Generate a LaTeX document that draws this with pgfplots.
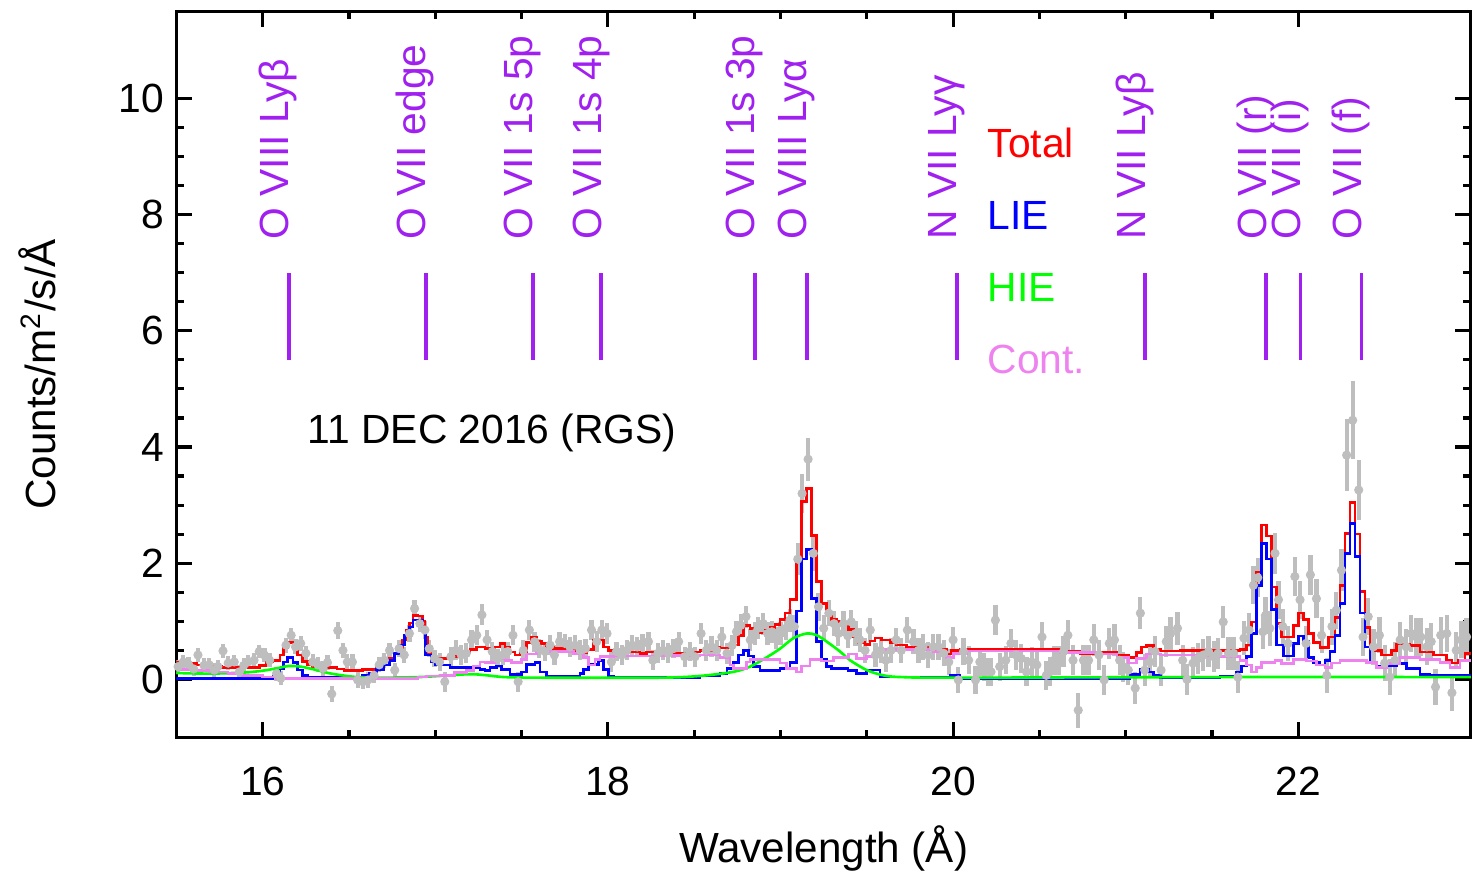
\documentclass[border=0pt]{standalone}
\usepackage{fontspec}
\setmainfont{Liberation Sans}
\usepackage{pgfplots}
\usepackage{pgfplotstable}
\pgfplotsset{compat=1.18}

\definecolor{idlpurple}{RGB}{160,32,240}
\definecolor{idlviolet}{RGB}{238,130,238}
\definecolor{idlgray}{RGB}{190,190,190}
\definecolor{idlgreen}{RGB}{0,255,0}
\definecolor{idlred}{RGB}{255,0,0}
\definecolor{idlblue}{RGB}{0,0,255}

\newcommand{\lab}{\fontsize{11.6}{13}\selectfont}

% RGS data points: wavelength, flux, 1-sigma error
\pgfplotstableread{
x y e
15.51 0.22 0.12
15.54 0.30 0.12
15.57 0.26 0.12
15.60 0.18 0.12
15.625 0.42 0.12
15.66 0.24 0.12
15.69 0.25 0.12
15.72 0.16 0.12
15.74 0.22 0.12
15.77 0.49 0.12
15.80 0.28 0.12
15.835 0.30 0.12
15.865 0.13 0.12
15.89 0.24 0.12
15.915 0.30 0.12
15.95 0.33 0.12
15.98 0.48 0.12
16.01 0.42 0.12
16.04 0.33 0.12
16.08 0.10 0.12
16.105 0.02 0.12
16.135 0.59 0.13
16.165 0.76 0.13
16.19 0.56 0.13
16.22 0.62 0.13
16.25 0.45 0.13
16.29 0.30 0.13
16.32 0.25 0.13
16.35 0.19 0.13
16.375 0.29 0.13
16.40 -0.25 0.14
16.435 0.84 0.14
16.465 0.50 0.13
16.49 0.30 0.13
16.52 0.30 0.13
16.55 -0.01 0.13
16.58 -0.04 0.13
16.61 -0.01 0.13
16.645 0.07 0.13
16.675 0.25 0.13
16.705 0.33 0.13
16.735 0.50 0.13
16.765 0.16 0.13
16.79 0.53 0.14
16.82 0.42 0.14
16.85 0.79 0.15
16.88 1.22 0.15
16.91 0.96 0.15
16.94 0.85 0.15
16.965 0.53 0.15
16.995 0.36 0.15
17.025 0.30 0.15
17.055 -0.04 0.17
17.09 0.39 0.17
17.12 0.50 0.17
17.15 0.42 0.17
17.18 0.45 0.17
17.21 0.68 0.17
17.24 0.76 0.17
17.27 1.11 0.18
17.30 0.68 0.17
17.33 0.48 0.17
17.36 0.36 0.17
17.39 0.42 0.17
17.42 0.48 0.17
17.45 0.76 0.17
17.48 -0.04 0.17
17.51 0.50 0.17
17.545 0.85 0.18
17.575 0.65 0.17
17.60 0.53 0.17
17.635 0.48 0.17
17.665 0.59 0.17
17.69 0.42 0.17
17.72 0.65 0.17
17.75 0.62 0.17
17.78 0.56 0.17
17.81 0.59 0.17
17.84 0.50 0.17
17.87 0.53 0.17
17.905 0.85 0.18
17.935 0.65 0.18
17.965 0.85 0.18
17.995 0.79 0.18
18.02 0.30 0.17
18.05 0.48 0.17
18.08 0.42 0.17
18.11 0.50 0.17
18.14 0.59 0.17
18.17 0.56 0.17
18.20 0.62 0.17
18.235 0.65 0.17
18.26 0.33 0.17
18.29 0.45 0.17
18.32 0.50 0.17
18.35 0.45 0.17
18.38 0.53 0.17
18.41 0.65 0.17
18.445 0.39 0.17
18.475 0.48 0.17
18.505 0.39 0.17
18.54 0.79 0.18
18.57 0.50 0.18
18.60 0.56 0.18
18.63 0.50 0.18
18.66 0.73 0.18
18.69 0.45 0.18
18.72 0.59 0.18
18.745 0.82 0.19
18.77 0.93 0.19
18.80 1.08 0.19
18.825 0.68 0.19
18.85 0.79 0.19
18.87 0.88 0.19
18.90 0.96 0.19
18.925 0.79 0.19
18.95 0.82 0.19
18.975 0.71 0.19
19.00 0.79 0.20
19.03 0.88 0.20
19.055 1.02 0.20
19.08 0.91 0.20
19.10 2.07 0.28
19.125 3.20 0.33
19.16 3.79 0.37
19.19 2.17 0.30
19.22 1.25 0.24
19.25 0.88 0.22
19.28 1.14 0.22
19.31 0.96 0.21
19.335 0.79 0.21
19.365 0.96 0.21
19.39 0.75 0.21
19.41 0.99 0.21
19.435 0.79 0.21
19.46 0.68 0.21
19.49 0.50 0.21
19.52 0.85 0.21
19.55 0.42 0.21
19.58 0.50 0.21
19.61 0.33 0.21
19.64 0.50 0.21
19.67 0.68 0.21
19.70 0.50 0.21
19.735 0.85 0.22
19.77 0.65 0.22
19.80 0.50 0.22
19.825 0.56 0.22
19.855 0.42 0.22
19.885 0.56 0.22
19.915 0.56 0.22
19.945 0.45 0.22
19.975 0.30 0.22
20.00 0.68 0.22
20.03 -0.01 0.23
20.06 0.48 0.24
20.09 0.33 0.24
20.13 -0.01 0.24
20.155 0.30 0.24
20.18 0.22 0.24
20.20 0.13 0.24
20.22 0.13 0.24
20.245 1.02 0.26
20.27 0.22 0.24
20.305 0.33 0.24
20.335 0.62 0.25
20.365 0.42 0.25
20.395 0.36 0.25
20.425 0.13 0.25
20.455 0.30 0.25
20.485 0.25 0.25
20.515 0.73 0.26
20.54 0.07 0.25
20.56 0.13 0.25
20.585 0.33 0.25
20.61 0.33 0.25
20.64 0.48 0.26
20.665 0.76 0.27
20.695 0.33 0.26
20.725 -0.53 0.30
20.755 0.33 0.26
20.785 0.33 0.26
20.815 0.68 0.27
20.845 0.42 0.26
20.875 -0.01 0.26
20.905 0.62 0.27
20.935 0.68 0.27
20.965 0.33 0.26
20.985 0.22 0.26
21.015 0.16 0.26
21.055 -0.15 0.27
21.085 1.14 0.28
21.11 0.16 0.27
21.14 0.30 0.27
21.17 0.48 0.27
21.205 0.16 0.27
21.235 0.65 0.27
21.26 0.79 0.28
21.30 0.88 0.28
21.33 0.33 0.27
21.355 0.00 0.27
21.39 0.28 0.27
21.42 0.36 0.27
21.45 0.42 0.27
21.48 0.48 0.27
21.51 0.39 0.27
21.535 0.45 0.27
21.565 0.99 0.28
21.595 0.45 0.28
21.625 0.45 0.28
21.65 0.04 0.28
21.685 0.71 0.29
21.715 0.85 0.29
21.74 1.62 0.33
21.765 1.75 0.34
21.795 0.82 0.30
21.81 1.10 0.31
21.835 0.88 0.30
21.865 2.17 0.35
21.885 1.37 0.33
21.91 0.91 0.31
21.94 0.62 0.30
21.98 1.77 0.34
22.01 1.37 0.33
22.045 0.62 0.30
22.07 1.80 0.34
22.105 1.39 0.33
22.135 0.76 0.31
22.165 0.07 0.30
22.195 0.91 0.31
22.22 1.19 0.32
22.25 1.88 0.36
22.28 3.86 0.62
22.315 4.46 0.67
22.35 3.26 0.52
22.375 0.73 0.32
22.405 1.08 0.32
22.435 0.56 0.31
22.47 0.76 0.31
22.50 0.28 0.31
22.53 0.04 0.31
22.56 0.33 0.31
22.59 0.68 0.31
22.625 0.56 0.31
22.655 0.79 0.32
22.685 0.73 0.32
22.71 0.73 0.32
22.745 0.56 0.32
22.77 0.65 0.32
22.795 -0.13 0.31
22.825 0.76 0.32
22.86 0.79 0.32
22.89 -0.23 0.31
22.915 0.50 0.32
22.945 0.68 0.32
22.975 0.73 0.33
}\datatab

\begin{document}
\begin{tikzpicture}
\begin{axis}[
    name=ax,
    scale only axis,
    width=12.945cm, height=7.263cm,
    xmin=15.5, xmax=23, ymin=-1, ymax=11.5,
    xtick={16,18,20,22}, ytick={0,2,4,6,8,10},
    minor x tick num=3, minor y tick num=3,
    tick align=inside, xtick pos=both, ytick pos=both,
    major tick length=0.16cm, minor tick length=0.08cm,
    every tick/.style={black, line width=0.9pt},
    axis line style={line width=0.9pt},
    tick label style={font=\lab},
    /pgf/number format/assume math mode=true,
    xticklabel style={yshift=-0.17cm},
    xlabel={Wavelength (Å)},
    ylabel={Counts/m\textsuperscript{2}/s/Å},
    every axis x label/.style={at={(axis description cs:0.5,0)}, yshift=-1.11cm, anchor=center, font=\fontsize{12}{14}\selectfont},
    every axis y label/.style={at={(axis description cs:0,0.5)}, xshift=-1.39cm, rotate=90, anchor=center, font=\fontsize{12}{14}\selectfont},
]

% data
\addplot[only marks, mark=*, mark size=1.1pt, idlgray,
    error bars/.cd, y dir=both, y explicit,
    error bar style={line width=1.2pt, idlgray}, error mark=none]
    table[x=x, y=y, y error=e] {\datatab};

% Total model
\addplot[idlred, line width=0.75pt, const plot] coordinates {
(15.50,0.29) (15.56,0.27) (15.62,0.25) (15.69,0.22) (15.76,0.21) (15.84,0.20)
(15.92,0.21) (15.98,0.24) (16.02,0.30) (16.06,0.33) (16.10,0.42) (16.12,0.55)
(16.145,0.63) (16.175,0.54) (16.20,0.42) (16.23,0.31) (16.26,0.26) (16.29,0.22)
(16.36,0.20) (16.43,0.18) (16.47,0.15) (16.58,0.17) (16.66,0.21) (16.70,0.30)
(16.735,0.37) (16.765,0.44) (16.79,0.54) (16.81,0.68) (16.83,0.85) (16.85,0.97)
(16.87,1.10) (16.90,1.09) (16.925,1.00) (16.94,0.73) (16.955,0.45) (16.975,0.40)
(17.00,0.37) (17.027,0.36) (17.085,0.39) (17.143,0.46) (17.20,0.52) (17.24,0.56)
(17.288,0.53) (17.317,0.50) (17.346,0.56) (17.375,0.62) (17.404,0.56) (17.433,0.47)
(17.462,0.42) (17.491,0.47) (17.529,0.63) (17.558,0.72) (17.587,0.66) (17.616,0.62)
(17.645,0.56) (17.684,0.53) (17.761,0.50) (17.838,0.46) (17.877,0.52) (17.915,0.68)
(17.973,0.56) (18.002,0.50) (18.031,0.47) (18.186,0.45) (18.224,0.47) (18.30,0.44)
(18.38,0.45) (18.495,0.47) (18.534,0.50) (18.611,0.56) (18.65,0.54) (18.727,0.59)
(18.756,0.76) (18.785,0.93) (18.824,0.88) (18.853,0.82) (18.882,0.80) (18.911,0.84)
(18.94,0.89) (18.969,0.95) (18.998,1.03) (19.027,1.14) (19.056,1.38) (19.094,2.07)
(19.123,3.06) (19.152,3.29) (19.181,2.48) (19.21,1.68) (19.239,1.31) (19.268,1.14)
(19.297,1.03) (19.326,1.00) (19.364,0.92) (19.393,0.86) (19.422,0.73) (19.451,0.63)
(19.49,0.60) (19.519,0.66) (19.548,0.71) (19.586,0.68) (19.635,0.64) (19.673,0.59)
(19.731,0.55) (19.886,0.52) (19.963,0.44) (19.992,0.50) (20.04,0.52) (20.62,0.49)
(20.735,0.44) (20.85,0.46) (20.95,0.42) (21.02,0.38) (21.063,0.46) (21.09,0.56)
(21.12,0.58) (21.16,0.52) (21.20,0.49) (21.314,0.50) (21.546,0.50) (21.662,0.52)
(21.701,0.59) (21.730,0.99) (21.759,1.85) (21.788,2.66) (21.817,2.47) (21.846,1.59)
(21.875,0.96) (21.904,0.73) (21.971,0.93) (22.0,1.14) (22.029,1.03) (22.058,0.79)
(22.087,0.63) (22.126,0.55) (22.174,0.73) (22.213,1.07) (22.241,1.62) (22.27,2.51)
(22.299,3.04) (22.328,2.50) (22.357,1.51) (22.386,0.89) (22.415,0.59) (22.444,0.50)
(22.483,0.42) (22.541,0.50) (22.57,0.61) (22.647,0.58) (22.705,0.47) (22.782,0.42)
(22.859,0.33) (22.888,0.28) (22.927,0.33) (22.966,0.45) (23.0,0.45)};

% LIE
\addplot[idlblue, line width=0.75pt, const plot] coordinates {
(15.50,0.02) (16.06,0.06) (16.10,0.19) (16.12,0.30) (16.145,0.38) (16.175,0.29)
(16.20,0.16) (16.23,0.07) (16.26,0.03) (16.58,0.07) (16.62,0.11) (16.66,0.17)
(16.70,0.25) (16.735,0.33) (16.765,0.45) (16.79,0.59) (16.82,0.76) (16.85,0.90)
(16.87,1.02) (16.90,1.01) (16.925,0.85) (16.945,0.42) (16.975,0.30) (17.00,0.25)
(17.027,0.25) (17.085,0.21) (17.26,0.17) (17.288,0.15) (17.317,0.21) (17.355,0.23)
(17.384,0.17) (17.433,0.09) (17.50,0.13) (17.529,0.26) (17.577,0.29) (17.606,0.13)
(17.645,0.06) (17.838,0.10) (17.857,0.17) (17.886,0.26) (17.944,0.33) (17.973,0.17)
(18.002,0.06) (18.031,0.03) (18.534,0.06) (18.65,0.10) (18.69,0.19) (18.727,0.29)
(18.756,0.42) (18.785,0.50) (18.814,0.40) (18.843,0.22) (18.882,0.15) (18.998,0.19)
(19.056,0.29) (19.094,1.18) (19.123,2.07) (19.152,2.24) (19.181,1.39) (19.21,0.65)
(19.239,0.34) (19.268,0.22) (19.297,0.19) (19.39,0.15) (19.44,0.10) (19.50,0.16)
(19.577,0.04) (19.982,0.07) (20.04,0.02) (21.025,0.09) (21.083,0.17) (21.131,0.13)
(21.16,0.07) (21.20,0.03) (21.546,0.05) (21.643,0.13) (21.672,0.23) (21.70,0.39)
(21.73,0.79) (21.759,1.62) (21.788,2.34) (21.817,2.07) (21.846,1.20) (21.875,0.59)
(21.913,0.40) (21.971,0.62) (22.0,0.75) (22.029,0.65) (22.058,0.38) (22.087,0.29)
(22.126,0.25) (22.155,0.33) (22.184,0.48) (22.213,0.76) (22.241,1.31) (22.27,2.17)
(22.299,2.68) (22.328,2.12) (22.357,1.14) (22.386,0.56) (22.415,0.30) (22.454,0.23)
(22.512,0.23) (22.57,0.27) (22.628,0.19) (22.705,0.09) (22.763,0.07) (23.0,0.07)};

% HIE
\addplot[idlgreen, line width=0.75pt, smooth] coordinates {
(15.50,0.11) (15.70,0.10) (15.90,0.12) (16.00,0.15) (16.08,0.19) (16.15,0.23)
(16.22,0.22) (16.30,0.17) (16.38,0.11) (16.46,0.07) (16.55,0.04) (16.70,0.03)
(16.90,0.04) (17.03,0.06) (17.20,0.09) (17.30,0.07) (17.40,0.04) (17.60,0.03)
(18.30,0.03) (18.534,0.06) (18.727,0.13) (18.824,0.22) (18.92,0.38) (18.998,0.53)
(19.075,0.71) (19.152,0.79) (19.21,0.76) (19.268,0.65) (19.345,0.48) (19.403,0.33)
(19.50,0.16) (19.596,0.07) (19.70,0.04) (20.00,0.03) (21.50,0.04) (23.00,0.04)};

% Continuum
\addplot[idlviolet, line width=0.75pt, const plot] coordinates {
(15.50,0.17) (15.60,0.15) (15.69,0.13) (15.80,0.10) (15.88,0.07) (16.00,0.04)
(16.08,0.02) (16.90,0.04) (16.95,0.06) (17.027,0.07) (17.11,0.12) (17.18,0.15)
(17.22,0.23) (17.26,0.30) (17.288,0.29) (17.346,0.36) (17.404,0.33) (17.442,0.29)
(17.50,0.34) (17.529,0.44) (17.587,0.48) (17.80,0.45) (17.857,0.38) (17.886,0.25)
(17.925,0.34) (17.954,0.39) (18.031,0.40) (18.30,0.41) (18.534,0.42) (18.65,0.38)
(18.708,0.25) (18.727,0.19) (18.804,0.30) (18.824,0.34) (18.998,0.28) (19.036,0.19)
(19.094,0.13) (19.123,0.23) (19.171,0.34) (19.239,0.32) (19.306,0.38) (19.393,0.44)
(19.442,0.36) (19.50,0.39) (19.557,0.47) (19.577,0.52) (19.886,0.47) (19.963,0.38)
(20.002,0.45) (20.04,0.44) (20.079,0.49) (20.62,0.46) (20.85,0.44) (20.95,0.38)
(21.015,0.28) (21.063,0.36) (21.121,0.44) (21.20,0.42) (21.45,0.40) (21.546,0.39)
(21.662,0.33) (21.70,0.25) (21.73,0.13) (21.759,0.21) (21.788,0.29) (21.865,0.33)
(21.904,0.27) (21.971,0.34) (22.048,0.32) (22.106,0.25) (22.155,0.20) (22.193,0.28)
(22.241,0.33) (22.396,0.29) (22.454,0.21) (22.512,0.27) (22.589,0.38) (22.705,0.34)
(22.82,0.29) (22.879,0.20) (22.937,0.33) (23.0,0.33)};

% line markers
\addplot[idlpurple, line width=1pt] coordinates {(16.152,5.5) (16.152,7.0)};
\addplot[idlpurple, line width=1pt] coordinates {(16.946,5.5) (16.946,7.0)};
\addplot[idlpurple, line width=1pt] coordinates {(17.566,5.5) (17.566,7.0)};
\addplot[idlpurple, line width=1pt] coordinates {(17.960,5.5) (17.960,7.0)};
\addplot[idlpurple, line width=1pt] coordinates {(18.852,5.5) (18.852,7.0)};
\addplot[idlpurple, line width=1pt] coordinates {(19.153,5.5) (19.153,7.0)};
\addplot[idlpurple, line width=1pt] coordinates {(20.022,5.5) (20.022,7.0)};
\addplot[idlpurple, line width=1pt] coordinates {(21.112,5.5) (21.112,7.0)};
\addplot[idlpurple, line width=1pt] coordinates {(21.813,5.5) (21.813,7.0)};
\addplot[idlpurple, line width=1pt] coordinates {(22.012,5.5) (22.012,7.0)};
\addplot[idlpurple, line width=1pt] coordinates {(22.367,5.5) (22.367,7.0)};

\begin{scope}[every node/.style={rotate=90, anchor=base west, inner sep=0pt, text=idlpurple, font=\lab}]
\node at (axis cs:16.152,7.56) {O VIII Lyβ};
\node at (axis cs:16.946,7.56) {O VII edge};
\node at (axis cs:17.566,7.56) {O VII 1s 5p};
\node at (axis cs:17.960,7.56) {O VII 1s 4p};
\node at (axis cs:18.852,7.56) {O VII 1s 3p};
\node at (axis cs:19.153,7.56) {O VIII Lyα};
\node at (axis cs:20.022,7.56) {N VII Lyγ};
\node at (axis cs:21.112,7.56) {N VII Lyβ};
\node at (axis cs:21.813,7.56) {O VII (r)};
\node at (axis cs:22.012,7.56) {O VII (i)};
\node at (axis cs:22.367,7.56) {O VII (f)};
\end{scope}

\begin{scope}[every node/.style={anchor=west, inner sep=0pt, font=\lab}]
\node[text=idlred] at (axis cs:20.196,9.23) {Total};
\node[text=idlblue] at (axis cs:20.196,7.99) {LIE};
\node[text=idlgreen] at (axis cs:20.196,6.75) {HIE};
\node[text=idlviolet] at (axis cs:20.196,5.50) {Cont.};
\node[text=black] at (axis cs:16.257,4.24) {11 DEC 2016 (RGS)};
\end{scope}
\end{axis}
\path (ax.south west) ++(-1.764cm,-1.366cm);
\path (ax.north east) ++(0.021cm,0.112cm);
\end{tikzpicture}
\end{document}
